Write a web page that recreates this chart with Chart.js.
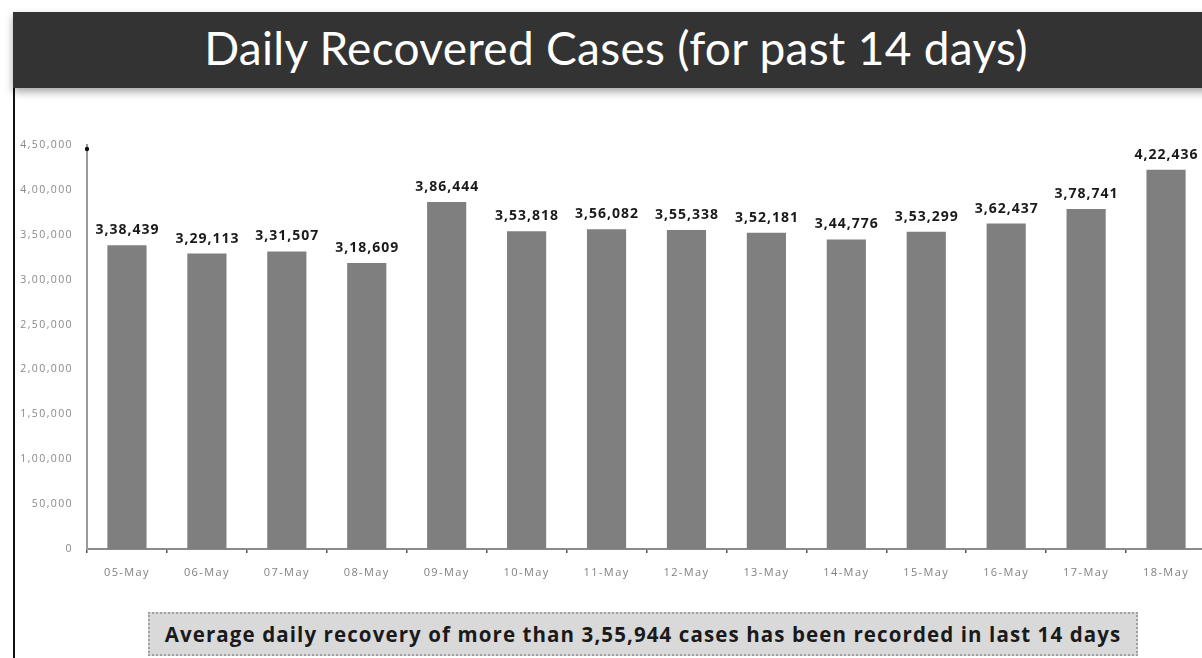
<!DOCTYPE html>
<html>
<head>
<meta charset="utf-8">
<script src="https://cdn.jsdelivr.net/npm/chart.js@4"></script>
<style>
  html,body{margin:0;padding:0;width:1202px;height:658px;overflow:hidden;background:#fff;}
  #frame{position:absolute;left:13px;top:12px;width:1200px;height:660px;border-left:2px solid #111;}
  #title{position:absolute;left:13px;top:12px;width:1200px;height:76px;background:#333;color:#fff;
    font-family:Lato,"Open Sans",sans-serif;font-size:46px;line-height:72px;
    box-shadow:0 4px 8px rgba(0,0,0,0.35);}
  #title span{position:absolute;left:0;width:1206px;text-align:center;letter-spacing:0.3px;}
  #wrap{position:absolute;left:0;top:100px;width:1206px;height:490px;}
  #note{position:absolute;left:148px;top:612px;width:990px;height:44px;background:#d9d9d9;
    border:2px dotted #a0a0a0;box-sizing:border-box;font-family:"Open Sans",sans-serif;font-weight:bold;
    font-size:20.5px;line-height:40px;text-align:center;color:#1a1a1a;letter-spacing:1.1px;white-space:nowrap;}
</style>
</head>
<body>
<div id="frame"></div>
<div id="title"><span>Daily Recovered Cases (for past 14 days)</span></div>
<div id="wrap"><canvas id="c" width="1206" height="490"></canvas></div>
<div id="note">Average daily recovery of more than 3,55,944 cases has been recorded in last 14 days</div>
<script>
const categories = ["05-May","06-May","07-May","08-May","09-May","10-May","11-May","12-May","13-May","14-May","15-May","16-May","17-May","18-May"];
const recovered = [338439,329113,331507,318609,386444,353818,356082,355338,352181,344776,353299,362437,378741,422436];
const yTickMax = 450000;
const yTickStep = 50000;

function inFmt(n){
  const s = String(Math.round(n));
  if (s.length <= 3) return s;
  const last3 = s.slice(-3);
  let rest = s.slice(0,-3);
  const parts = [];
  while (rest.length > 2){ parts.unshift(rest.slice(-2)); rest = rest.slice(0,-2); }
  if (rest.length) parts.unshift(rest);
  return parts.join(',') + ',' + last3;
}

const spacingPlugin = {
  id:'spacing',
  beforeDraw(chart){ chart.ctx.letterSpacing = '1.4px'; }
};

const labelPlugin = {
  id:'barLabels',
  afterDatasetsDraw(chart){
    const ctx = chart.ctx;
    const meta = chart.getDatasetMeta(0);
    ctx.save();
    ctx.letterSpacing = '1px';
    ctx.font = 'bold 14px "Open Sans", sans-serif';
    ctx.fillStyle = '#1a1a1a';
    ctx.textAlign = 'center';
    ctx.textBaseline = 'alphabetic';
    meta.data.forEach((bar,i)=>{
      ctx.fillText(inFmt(chart.data.datasets[0].data[i]), bar.x + 0.5, bar.y - 11);
    });
    const ys = chart.scales.y;
    ctx.fillStyle = '#111';
    ctx.beginPath();
    ctx.arc(ys.right, ys.top + 4, 2.2, 0, Math.PI*2);
    ctx.fill();
    ctx.restore();
  }
};

new Chart(document.getElementById('c'), {
  type:'bar',
  data:{labels:categories, datasets:[{data:recovered, backgroundColor:'#7f7f7f', borderWidth:0,
    barPercentage:0.49, categoryPercentage:1.0}]},
  options:{
    responsive:false, animation:false,
    layout:{padding:{top:45,right:0,left:0,bottom:0}},
    plugins:{legend:{display:false}, tooltip:{enabled:false}},
    scales:{
      x:{
        grid:{display:true, drawOnChartArea:false, offset:true, tickLength:4, color:'#555', lineWidth:1.5},
        border:{display:true, color:'#8a8a8a', width:2},
        ticks:{color:'#808080', font:{family:'"Open Sans", sans-serif', size:11}, padding:13, maxRotation:0, autoSkip:false},
        afterFit(s){ s.height = 41; }
      },
      y:{
        min:0, max:yTickMax,
        grid:{display:false, tickLength:0},
        border:{display:true, color:'#9a9a9a', width:2},
        ticks:{stepSize:yTickStep, color:'#888', font:{family:'"Open Sans", sans-serif', size:10.5}, padding:14,
          callback:(v)=>inFmt(v)},
        afterFit(s){ s.width = 87; }
      }
    }
  },
  plugins:[spacingPlugin, labelPlugin]
});
</script>
</body>
</html>
